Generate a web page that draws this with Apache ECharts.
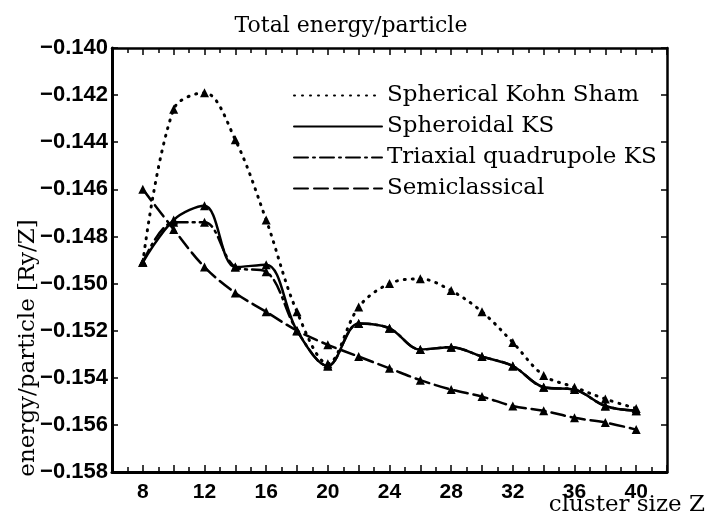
<!DOCTYPE html>
<html>
<head>
<meta charset="utf-8">
<script src="https://cdn.jsdelivr.net/npm/echarts@6/dist/echarts.min.js"></script>
<style>
  html, body { margin: 0; padding: 0; background: #fff; }
  #chart { width: 707px; height: 525px; }
</style>
</head>
<body>
<div id="chart"></div>
<script>
// ---- data ----
const clusterSize = [8, 10, 12, 14, 16, 18, 20, 22, 24, 26, 28, 30, 32, 34, 36, 38, 40];
const sphericalKS = [-0.1491, -0.1426, -0.1419, -0.1439, -0.1473, -0.1512, -0.1534, -0.1510, -0.1500, -0.1498, -0.1503, -0.1512, -0.1525, -0.1539, -0.1544, -0.1549, -0.1553];
const spheroidalKS = [-0.1491, -0.1473, -0.1467, -0.1493, -0.1492, -0.1520, -0.1535, -0.1517, -0.1519, -0.1528, -0.1527, -0.1531, -0.1535, -0.1544, -0.1545, -0.1552, -0.1554];
const triaxialKS = [-0.1491, -0.1474, -0.1474, -0.1493, -0.1495, -0.1520, -0.1535, -0.1517, -0.1519, -0.1528, -0.1527, -0.1531, -0.1535, -0.1544, -0.1545, -0.1552, -0.1554];
const semiclassical = [-0.1460, -0.1477, -0.1493, -0.1504, -0.1512, -0.1520, -0.1526, -0.1531, -0.1536, -0.1541, -0.1545, -0.1548, -0.1552, -0.1554, -0.1557, -0.1559, -0.1562];
const xLabelValues = [8, 12, 16, 20, 24, 28, 32, 36, 40];
const seriesNames = ['Spherical Kohn Sham', 'Spheroidal KS', 'Triaxial quadrupole KS', 'Semiclassical'];

const pair = (ys) => clusterSize.map((x, i) => [x, ys[i]]);
const sans = "'Liberation Sans', Arial, sans-serif";
const serif = "'DejaVu Serif', 'Liberation Serif', serif";

const chart = echarts.init(document.getElementById('chart'), null, { renderer: 'canvas' });

function lineSeries(name, ys, dash, width, z) {
  return {
    name: name,
    type: 'line',
    data: pair(ys),
    smooth: 0.35,
    symbol: 'triangle',
    symbolSize: 9,
    showSymbol: true,
    z: z,
    itemStyle: { color: '#000' },
    lineStyle: { color: '#000', width: width, type: dash, cap: 'round' },
    emphasis: { disabled: true }
  };
}

const option = {
  animation: false,
  backgroundColor: '#fff',
  title: {
    text: 'Total energy/particle',
    left: 346,
    textAlign: 'center',
    top: 10,
    textStyle: { fontFamily: serif, fontSize: 22, fontWeight: 'normal', color: '#000' }
  },
  grid: { left: 112, right: 40, top: 48, bottom: 53, outerBoundsMode: 'none', containLabel: false },
  legend: {
    orient: 'vertical',
    left: 288,
    top: 79,
    itemWidth: 88,
    itemHeight: 14,
    itemGap: 8,
    data: seriesNames,
    itemStyle: { opacity: 0, borderWidth: 0 },
    textStyle: { fontFamily: serif, fontSize: 23, color: '#000', lineHeight: 23 }
  },
  xAxis: [
    {
      type: 'value', min: 6, max: 42, interval: 2, position: 'bottom',
      name: 'cluster size Z',
      nameLocation: 'end',
      nameGap: 38,
      nameMoveOverlap: false,
      nameTextStyle: { fontFamily: serif, fontSize: 23, color: '#000', align: 'right', verticalAlign: 'top', padding: [22, 0, 0, 0] },
      axisLine: { onZero: false, lineStyle: { color: '#000', width: 3 } },
      axisTick: { inside: true, length: 7, lineStyle: { color: '#000', width: 1.5 } },
      minorTick: { show: true, splitNumber: 2, length: 5, lineStyle: { color: '#000', width: 1.5 } },
      splitLine: { show: false },
      axisLabel: {
        margin: 10,
        fontFamily: sans, fontSize: 21, fontWeight: 'bold', color: '#000',
        formatter: (v) => (xLabelValues.indexOf(v) >= 0 ? String(v) : '')
      }
    },
    {
      type: 'value', min: 6, max: 42, interval: 2, position: 'top',
      axisLine: { onZero: false, lineStyle: { color: '#000', width: 2.5 } },
      axisTick: { inside: true, length: 7, lineStyle: { color: '#000', width: 1.5 } },
      minorTick: { show: true, splitNumber: 2, length: 5, lineStyle: { color: '#000', width: 1.5 } },
      splitLine: { show: false },
      axisLabel: { show: false }
    }
  ],
  yAxis: [
    {
      type: 'value', min: -0.158, max: -0.140, interval: 0.002, position: 'left',
      name: 'energy/particle [Ry/Z]',
      nameLocation: 'middle',
      nameRotate: 90,
      nameGap: 72,
      nameMoveOverlap: false,
      nameTextStyle: { fontFamily: serif, fontSize: 23, color: '#000', padding: [0, 176, 0, 0] },
      axisLine: { onZero: false, lineStyle: { color: '#000', width: 3 } },
      axisTick: { inside: true, length: 6, lineStyle: { color: '#000', width: 1.5 } },
      splitLine: { show: false },
      axisLabel: {
        margin: 4,
        fontFamily: sans, fontSize: 22, fontWeight: 'bold', color: '#000',
        formatter: (v) => (v < 0 ? '\u2212' : '') + Math.abs(v).toFixed(3)
      }
    },
    {
      type: 'value', min: -0.158, max: -0.140, interval: 0.002, position: 'right',
      axisLine: { onZero: false, lineStyle: { color: '#000', width: 2.5 } },
      axisTick: { inside: true, length: 6, lineStyle: { color: '#000', width: 1.5 } },
      splitLine: { show: false },
      axisLabel: { show: false }
    }
  ],
  series: [
    lineSeries(seriesNames[0], sphericalKS, [1, 7], 3, 3),
    lineSeries(seriesNames[2], triaxialKS, [14, 5, 2, 5], 2.5, 2),
    lineSeries(seriesNames[1], spheroidalKS, 'solid', 2.5, 4),
    lineSeries(seriesNames[3], semiclassical, [14, 6], 2.5, 2)
  ]
};
chart.setOption(option);
</script>
</body>
</html>
